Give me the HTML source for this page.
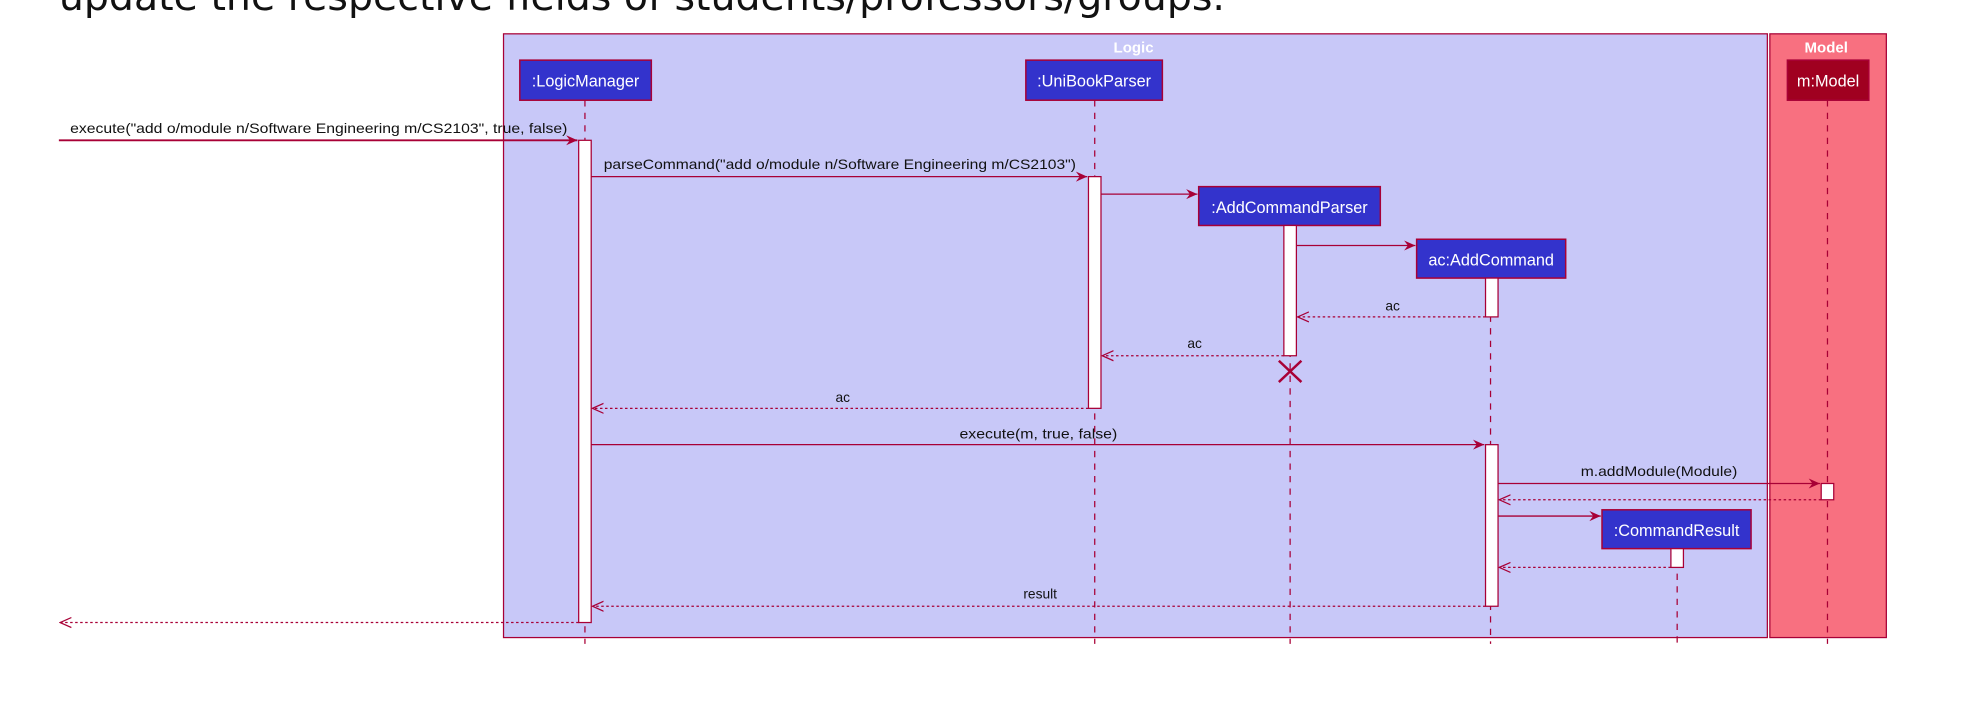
<!DOCTYPE html>
<html><head><meta charset="utf-8"><style>
html,body{margin:0;padding:0;background:#fff;width:1964px;height:726px;overflow:hidden}
svg{display:block}
text{font-family:"Liberation Sans",sans-serif}
</style></head><body>
<svg width="1964" height="726" viewBox="0 0 1568 579.6" xmlns="http://www.w3.org/2000/svg">
<defs>
<marker id="a" markerWidth="10" markerHeight="10" refX="9" refY="5" orient="auto" markerUnits="userSpaceOnUse"><path d="M0,1 L9,5 L0,9 L3,5 Z" fill="#A80036"/></marker>
<marker id="o" markerWidth="10" markerHeight="10" refX="9" refY="5" orient="auto" markerUnits="userSpaceOnUse"><path d="M0,1 L9,5 L0,9" fill="none" stroke="#A80036" stroke-width="1"/></marker>
</defs>
<text x="47" y="8" font-size="31" fill="#111" textLength="931" lengthAdjust="spacingAndGlyphs" style="font-family:'DejaVu Sans','Liberation Sans',sans-serif">update the respective fields of students/professors/groups.</text>
<rect x="402" y="27" width="1009" height="482" fill="#C8C8F8" stroke="#A80036" stroke-width="1"/>
<rect x="1413" y="27" width="93" height="482" fill="#F87080" stroke="#A80036" stroke-width="1"/>
<text x="905" y="42" font-size="12" font-weight="bold" fill="#fff" text-anchor="middle">Logic</text>
<text x="1458" y="42" font-size="12" font-weight="bold" fill="#fff" text-anchor="middle">Model</text>
<g stroke="#A80036" stroke-width="1" stroke-dasharray="5,5">
<line x1="467" y1="80" x2="467" y2="514"/><line x1="874" y1="80" x2="874" y2="514"/>
<line x1="1030" y1="180" x2="1030" y2="514"/><line x1="1190" y1="222" x2="1190" y2="514"/>
<line x1="1339" y1="438" x2="1339" y2="514"/><line x1="1459" y1="80" x2="1459" y2="514"/>
</g>
<g stroke="#A80036" stroke-width="1.2">
<rect x="415" y="48" width="105" height="32" fill="#3333CC"/>
<rect x="819" y="48" width="109" height="32" fill="#3333CC"/>
<rect x="1427" y="48" width="65" height="32" fill="#A00020"/>
<rect x="957" y="149" width="145" height="31" fill="#3333CC"/>
<rect x="1131" y="191" width="119" height="31" fill="#3333CC"/>
<rect x="1279" y="407" width="119" height="31" fill="#3333CC"/>
</g>
<g font-size="13" fill="#fff" text-anchor="middle">
<text x="467.5" y="69">:LogicManager</text><text x="873.5" y="69">:UniBookParser</text>
<text x="1459.5" y="69">m:Model</text><text x="1029.5" y="170">:AddCommandParser</text>
<text x="1190.5" y="212">ac:AddCommand</text><text x="1338.5" y="428">:CommandResult</text>
</g>
<g fill="#fff" stroke="#A80036" stroke-width="1">
<rect x="462" y="112" width="10" height="385"/>
<rect x="869" y="141" width="10" height="185"/>
<rect x="1025" y="180" width="10" height="104"/>
<rect x="1186" y="222" width="10" height="31"/>
<rect x="1186" y="355" width="10" height="129"/>
<rect x="1454" y="386" width="10" height="13"/>
<rect x="1334" y="438" width="10" height="15"/>
</g>
<g stroke="#A80036" stroke-width="1" fill="none">
<line x1="47" y1="112" x2="461" y2="112" marker-end="url(#a)" stroke-width="1.5"/>
<line x1="472" y1="141" x2="868" y2="141" marker-end="url(#a)"/>
<line x1="879" y1="155" x2="956" y2="155" marker-end="url(#a)"/>
<line x1="1035" y1="196" x2="1130" y2="196" marker-end="url(#a)"/>
<line x1="472" y1="355" x2="1185" y2="355" marker-end="url(#a)"/>
<line x1="1196" y1="386" x2="1453" y2="386" marker-end="url(#a)"/>
<line x1="1196" y1="412" x2="1278" y2="412" marker-end="url(#a)"/>
<g stroke-dasharray="2,2">
<line x1="1186" y1="253" x2="1036" y2="253" marker-end="url(#o)"/>
<line x1="1025" y1="284" x2="880" y2="284" marker-end="url(#o)"/>
<line x1="869" y1="326" x2="473" y2="326" marker-end="url(#o)"/>
<line x1="1454" y1="399" x2="1197" y2="399" marker-end="url(#o)"/>
<line x1="1334" y1="453" x2="1197" y2="453" marker-end="url(#o)"/>
<line x1="1186" y1="484" x2="473" y2="484" marker-end="url(#o)"/>
<line x1="462" y1="497" x2="48" y2="497" marker-end="url(#o)"/>
</g>
<path d="M1021,288 L1039,305 M1039,288 L1021,305" stroke-width="2"/>
</g>
<g font-size="11" fill="#111">
<text x="56" y="106" textLength="397" lengthAdjust="spacingAndGlyphs">execute("add o/module n/Software Engineering m/CS2103", true, false)</text>
<text x="482" y="135" textLength="377" lengthAdjust="spacingAndGlyphs">parseCommand("add o/module n/Software Engineering m/CS2103")</text>
<text x="1106" y="248">ac</text><text x="948" y="278">ac</text><text x="667" y="321">ac</text>
<text x="766" y="350" textLength="126" lengthAdjust="spacingAndGlyphs">execute(m, true, false)</text>
<text x="1262" y="380" textLength="125" lengthAdjust="spacingAndGlyphs">m.addModule(Module)</text>
<text x="817" y="478">result</text>
</g>
</svg>
</body></html>
